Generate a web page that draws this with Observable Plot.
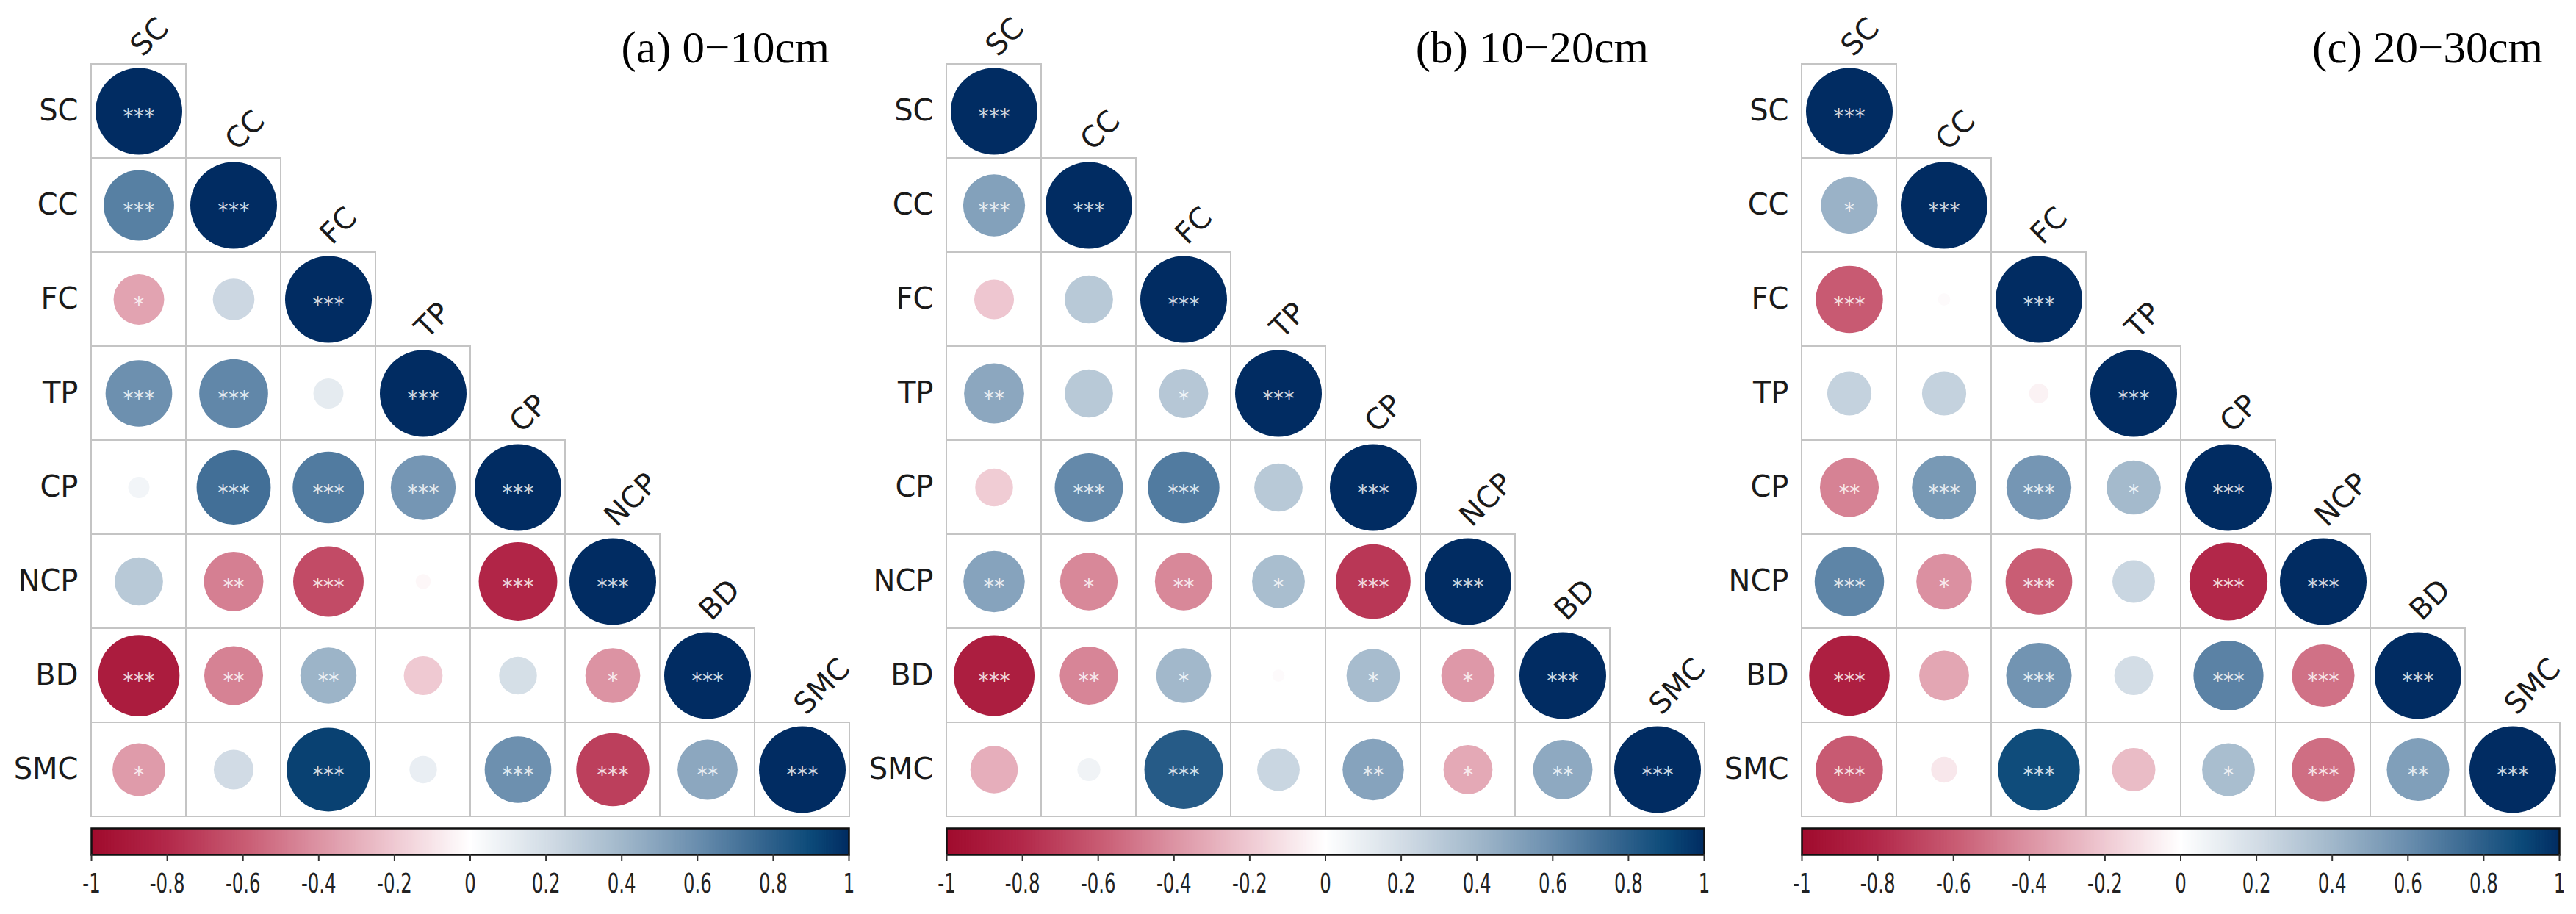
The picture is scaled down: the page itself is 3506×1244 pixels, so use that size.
<!DOCTYPE html>
<html><head><meta charset="utf-8">
<script src="https://cdn.jsdelivr.net/npm/d3@7"></script>
<script src="https://cdn.jsdelivr.net/npm/@observablehq/plot@0.6"></script>
<style>
body{margin:0;background:#fff;}
#wrap{position:relative;width:3506px;height:1244px;overflow:hidden;background:#fff;}
.panel{position:absolute;top:0;width:1164px;height:1244px;}
.panel svg{overflow:visible;display:block;}
.title{position:absolute;top:35px;font-family:"Liberation Serif","Times New Roman",serif;font-size:61px;line-height:60px;color:#000;white-space:nowrap;}
</style></head><body><div id="wrap"></div>
<script>
const vars = ["SC","CC","FC","TP","CP","NCP","BD","SMC"];
const panelTitles = ["(a) 0\u221210cm","(b) 10\u221220cm","(c) 20\u221230cm"];

// (a) 0-10cm lower triangle correlations and significance
const corrA = [
  [1],
  [0.66, 1],
  [-0.34, 0.23, 1],
  [0.59, 0.63, 0.12, 1],
  [0.06, 0.73, 0.68, 0.56, 1],
  [0.31, -0.47, -0.66, -0.03, -0.82, 1],
  [-0.88, -0.46, 0.42, -0.20, 0.19, -0.40, 1],
  [-0.37, 0.21, 0.93, 0.10, 0.59, -0.71, 0.48, 1]
];
const starsA = [
  ["***"],
  ["***","***"],
  ["*","","***"],
  ["***","***","","***"],
  ["","***","***","***","***"],
  ["","**","***","","***","***"],
  ["***","**","**","","","*","***"],
  ["*","","***","","***","***","**","***"]
];
// (b) 10-20cm
const corrB = [
  [1],
  [0.51, 1],
  [-0.21, 0.31, 1],
  [0.48, 0.31, 0.32, 1],
  [-0.19, 0.62, 0.68, 0.31, 1],
  [0.50, -0.44, -0.44, 0.37, -0.74, 1],
  [-0.87, -0.45, 0.40, -0.02, 0.38, -0.38, 1],
  [-0.30, 0.07, 0.82, 0.24, 0.50, -0.32, 0.47, 1]
];
const starsB = [
  ["***"],
  ["***","***"],
  ["","","***"],
  ["**","","*","***"],
  ["","***","***","","***"],
  ["**","*","**","*","***","***"],
  ["***","**","*","","*","*","***"],
  ["","","***","","**","*","**","***"]
];
// (c) 20-30cm
const corrC = [
  [1],
  [0.43, 1],
  [-0.60, -0.02, 1],
  [0.26, 0.26, -0.05, 1],
  [-0.46, 0.55, 0.56, 0.39, 1],
  [0.64, -0.41, -0.59, 0.24, -0.81, 1],
  [-0.86, -0.33, 0.57, 0.20, 0.65, -0.52, 1],
  [-0.60, -0.09, 0.89, -0.25, 0.37, -0.53, 0.52, 1]
];
const starsC = [
  ["***"],
  ["*","***"],
  ["***","","***"],
  ["","","","***"],
  ["**","***","***","*","***"],
  ["***","*","***","","***","***"],
  ["***","","***","","***","***","***"],
  ["***","","***","","*","***","**","***"]
];

const colorDomain = [-1, -0.8, -0.6, -0.4, -0.2, 0, 0.2, 0.4, 0.6, 0.8, 0.9, 1];
const colorRange = ["#a00b2d","#b3284a","#c85a72","#dc93a3","#efc9d2","#ffffff","#d3dde6","#a2b8cb","#6a8eae","#2c5f8a","#0c4a79","#012c62"];
const colorTicks = [-1, -0.8, -0.6, -0.4, -0.2, 0, 0.2, 0.4, 0.6, 0.8, 1];

const panels = [
  {corr: corrA, stars: starsA, title: panelTitles[0]},
  {corr: corrB, stars: starsB, title: panelTitles[1]},
  {corr: corrC, stars: starsC, title: panelTitles[2]}
];
const panelLeft = [0, 1164, 2328];
const titleRight = [1129, 2244, 3461];

const colorScale = {type: "linear", domain: colorDomain, range: colorRange, interpolate: "rgb"};
const wrap = document.getElementById("wrap");
const steps = d3.range(-1, 1, 0.004);

panels.forEach((p, k) => {
  const cells = [];
  vars.forEach((rv, i) => p.corr[i].forEach((v, j) => cells.push({row: rv, col: vars[j], v, s: p.stars[i][j]})));
  const div = document.createElement("div");
  div.className = "panel";
  div.style.left = panelLeft[k] + "px";
  wrap.appendChild(div);

  const main = Plot.plot({
    width: 1164, height: 1115,
    marginTop: 85, marginBottom: 3, marginLeft: 124, marginRight: 8,
    style: {fontFamily: "DejaVu Sans", fontSize: "40px", background: "transparent", color: "#1a1a1a"},
    x: {domain: vars, padding: 0, axis: null},
    y: {domain: vars, padding: 0, axis: null},
    r: {domain: [0, 1], range: [0, 59]},
    color: colorScale,
    marks: [
      Plot.cell(cells, {x: "col", y: "row", fill: "white", stroke: "#c4c4c4", strokeWidth: 2}),
      Plot.dot(cells, {x: "col", y: "row", r: d => Math.abs(d.v), fill: "v", stroke: "none"}),
      Plot.text(cells, {x: "col", y: "row", text: "s", fill: "white", fillOpacity: 0.82, fontSize: 29, dy: 7}),
      Plot.axisY({tickSize: 0, tickPadding: 18, label: null, fontSize: 40, fill: "#1a1a1a"}),
      Plot.text(vars, {x: d => d, y: d => d, text: d => d, rotate: -45, textAnchor: "start", lineAnchor: "bottom", fontSize: 40, dx: 5, dy: -73, fill: "#1a1a1a"})
    ]
  });
  div.appendChild(main);

  const cb = Plot.plot({
    width: 1164, height: 129,
    marginTop: 12, marginBottom: 81, marginLeft: 124, marginRight: 9,
    style: {fontFamily: "DejaVu Sans", fontSize: "36px", background: "transparent", color: "#222"},
    x: {domain: [-1, 1], axis: null},
    y: {domain: [0, 1], axis: null},
    color: colorScale,
    marks: [
      Plot.rect(steps, {x1: d => d, x2: d => d + 0.006, y1: () => 0, y2: () => 1, fill: d => d + 0.002}),
      Plot.frame({stroke: "#111", strokeWidth: 2.5}),
      Plot.axisX(colorTicks, {tickSize: 9, tickPadding: 16, tickFormat: d => String(d), label: null, fontSize: 37, stroke: "#333", strokeWidth: 2, fill: "#222"})
    ]
  });
  cb.style.position = "absolute";
  cb.style.top = "1115px";
  cb.style.left = "0px";
  div.appendChild(cb);
  d3.select(cb).selectAll("g[aria-label='x-axis tick label'] text").each(function() {
    const t = this.getAttribute("transform") || "";
    this.setAttribute("transform", t + " scale(0.66,1)");
  });

  const t = document.createElement("div");
  t.className = "title";
  t.textContent = p.title;
  t.style.right = (3506 - titleRight[k]) + "px";
  wrap.appendChild(t);
});
</script></body></html>
